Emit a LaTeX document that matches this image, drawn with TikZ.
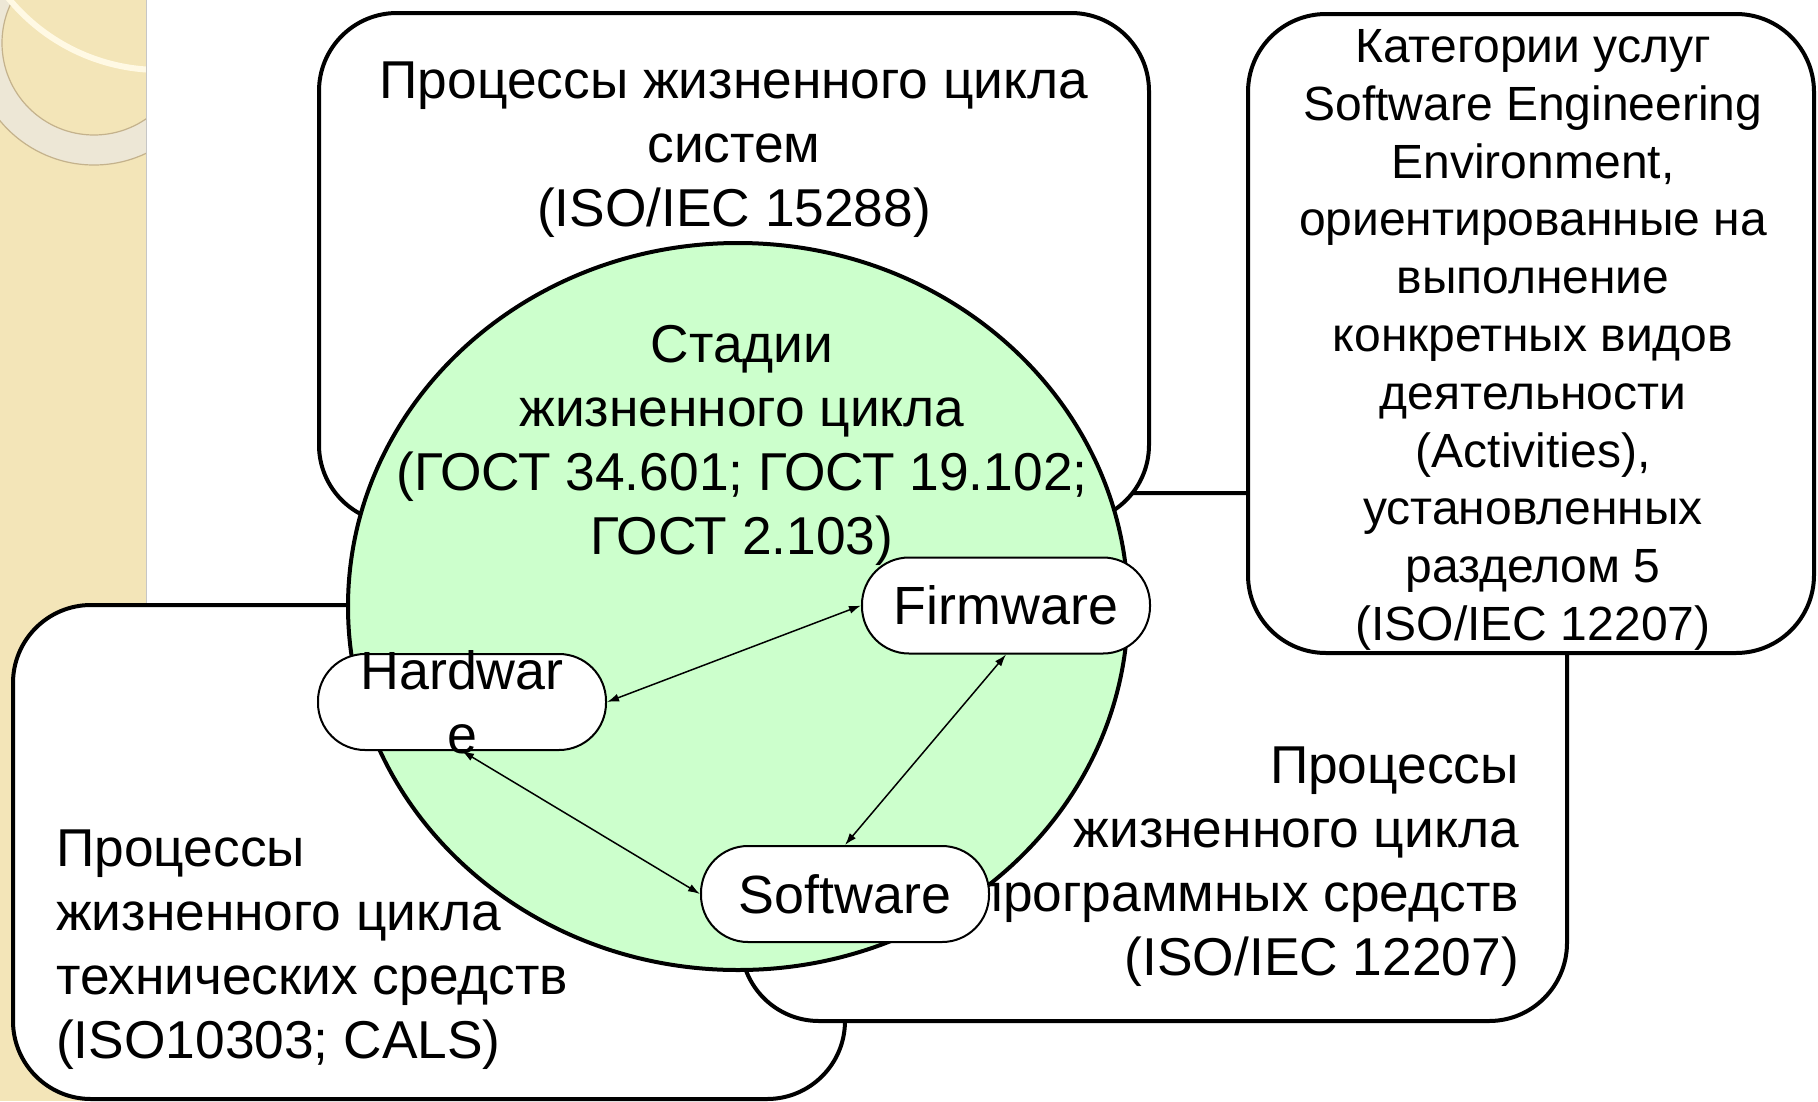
\documentclass[tikz,border=0pt]{standalone}
\usepackage{fontspec}
\setmainfont{Liberation Sans}
\usetikzlibrary{shapes.geometric,arrows.meta}
\definecolor{stripbeige}{RGB}{243,229,184}
\definecolor{bandcol}{RGB}{237,231,214}
\definecolor{ringedge}{RGB}{196,178,140}
\definecolor{streakcol}{RGB}{255,249,228}
\definecolor{circgreen}{RGB}{204,255,204}
\begin{document}
\begin{tikzpicture}[x=1pt,y=-1pt,
  bigbox/.style={draw, line width=4pt, rounded corners=78pt, fill=white, inner sep=0pt},
  pill/.style={draw, line width=2pt, fill=white, rounded corners=47pt, minimum width=288pt, minimum height=96pt, inner sep=0pt, font=\fontsize{53.8}{64}\selectfont},
  maintext/.style={inner sep=0pt, font=\fontsize{53.3}{64}\selectfont},
  sidetext/.style={inner sep=0pt, font=\fontsize{48}{57.8}\selectfont},
  conn/.style={line width=1.5pt, {Latex[length=12pt,width=8pt]}-{Latex[length=12pt,width=8pt]}}
]
\useasboundingbox (0,0) rectangle (1818,1101);
\fill[white] (0,0) rectangle (1818,1101);
% decorative strip
\begin{scope}
\clip (0,0) rectangle (146,1101);
\fill[stripbeige] (0,0) rectangle (146,1101);
\fill[bandcol, even odd rule] (94,43) circle[radius=122] (94,43) circle[radius=92];
\draw[ringedge, line width=1.2pt] (94,43) circle[radius=122];
\draw[ringedge, line width=1.2pt] (94,43) circle[radius=92];
\draw[streakcol, line width=6pt] (160,-126) circle[radius=196];
\end{scope}
\draw[gray!45, line width=1pt] (146,0) -- (146,1101);
% boxes
\node[bigbox, minimum width=832pt, minimum height=494pt] (hwbox) at (429,852) {};
\node[bigbox, minimum width=826pt, minimum height=528pt] (swbox) at (1154,757) {};
\node[bigbox, minimum width=830pt, minimum height=510pt] (sysbox) at (734,268) {};
\node[bigbox, minimum width=566pt, minimum height=639pt] (catbox) at (1531,333.5) {};
% central ellipse
\node[ellipse, draw, line width=4pt, fill=circgreen, minimum width=780pt, minimum height=727pt, inner sep=0pt] (stage) at (738,606.5) {};
% texts
\node[maintext, align=center] (systext) at (734,150) {Процессы жизненного цикла\\систем\\(ISO/IEC 15288)};
\node[maintext, align=center] (stagetext) at (742,445) {Стадии\\жизненного цикла\\(ГОСТ 34.601; ГОСТ 19.102;\\ГОСТ 2.103)};
\node[maintext, align=left, anchor=west] (hwtext) at (56,950) {Процессы\\жизненного цикла\\технических средств\\(ISO10303; CALS)};
\node[maintext, align=right, anchor=east] (swtext) at (1519,867) {Процессы\\жизненного цикла\\программных средств\\(ISO/IEC 12207)};
\node[sidetext, align=center] (cattext) at (1533,340) {Категории услуг\\Software Engineering\\Environment,\\ориентированные на\\выполнение\\конкретных видов\\деятельности\\(Activities),\\установленных\\разделом 5\\(ISO/IEC 12207)};
% pills
\node[pill] (fw) at (1006,605.5) {Firmware};
\node[pill] (sw) at (845,894) {Software};
\node[pill] (hw) at (462,702) {};
\node[inner sep=0pt, font=\fontsize{53.8}{64}\selectfont, align=center] (hwlabel) at (hw.center) {Hardwar\\e};
% connectors
\draw[conn] (hw.east) -- (fw.west);
\draw[conn] (fw.south) -- (sw.north);
\draw[conn] (hw.south) -- (sw.west);
\end{tikzpicture}
\end{document}
